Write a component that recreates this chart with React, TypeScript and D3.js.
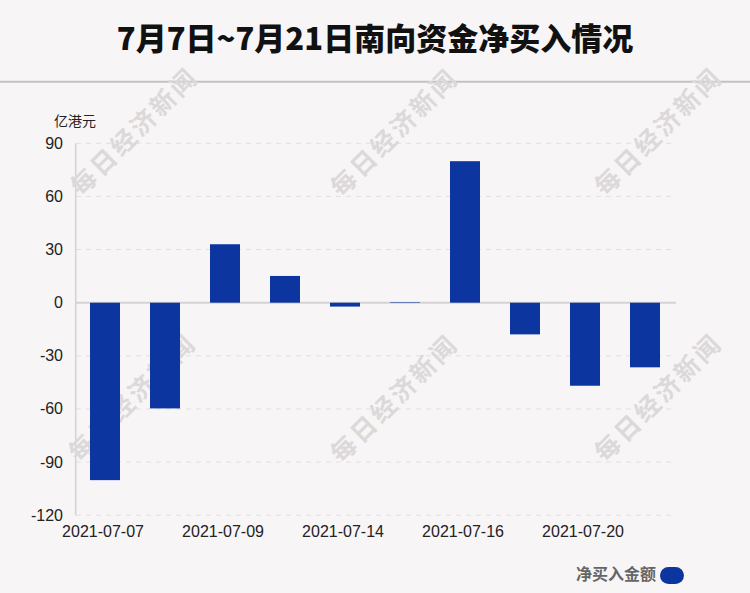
import React from "react";
import * as d3 from "d3";

const dates = ["2021-07-07", "2021-07-08", "2021-07-09", "2021-07-13", "2021-07-14", "2021-07-15", "2021-07-16", "2021-07-19", "2021-07-20", "2021-07-21"];
const netBuy = [-100.2, -59.7, 33.0, 15.1, -2.2, 0.3, 79.9, -17.9, -46.9, -36.5];
const yTicks = [90, 60, 30, 0, -30, -60, -90, -120];
const shownLabels = ["2021-07-07", "2021-07-09", "2021-07-14", "2021-07-16", "2021-07-20"];
const title = "7月7日~7月21日南向资金净买入情况";
const unit = "亿港元";
const legendLabel = "净买入金额";
const watermark = "每日经济新闻";
const watermarkSpots = [
  [133, 130], [393, 131], [657, 130],
  [131, 396], [393, 397], [657, 396],
];

const W = 750, H = 593;
const left = 75, right = 675, top = 143.3, bottom = 515.2;
const BLUE = "#0d35a0";
const FONT = "'Liberation Sans', Arial, sans-serif";
const CJK = "'Noto Sans CJK SC', 'Noto Sans', sans-serif";

export default function App() {
  const x = d3.scaleBand<string>().domain(dates).range([left, right]).paddingInner(0.5).paddingOuter(0.25);
  const y = d3.scaleLinear().domain([-120, 90]).range([bottom, top]);
  const y0 = y(0);
  return (
    <svg width={W} height={H} style={{ position: "absolute", left: 0, top: 0, background: "#f8f5f6" }}>
      <rect x={0} y={0} width={W} height={H} fill="#f8f5f6" />
      <text x={W / 2} y={50} textAnchor="middle" fontFamily={CJK} fontWeight="900" fontSize={31} fill="#111">{title}</text>
      <line x1={0} x2={W} y1={81.7} y2={81.7} stroke="#c2c2c2" strokeWidth={2} />
      {yTicks.filter(t => t !== 0).map(t => (
        <line key={"g" + t} x1={76} x2={672} y1={y(t)} y2={y(t)} stroke="#e2dfe0" strokeWidth={1} strokeDasharray="5,5" />
      ))}
      <line x1={75.7} x2={75.7} y1={top} y2={bottom} stroke="#d4d2d3" strokeWidth={1.5} />
      {watermarkSpots.map(([cx, cy], i) => (
        <text key={"w" + i} x={cx} y={cy} textAnchor="middle" dominantBaseline="central" fontFamily="'Noto Sans CJK SC', serif" fontWeight="bold" fontSize={25} letterSpacing={3} fill="#dcd9da" transform={`rotate(-45 ${cx} ${cy})`}>{watermark}</text>
      ))}
      <line x1={76} x2={676} y1={y0} y2={y0} stroke="#d4d2d3" strokeWidth={2} />
      {dates.map((d, i) => {
        const v = netBuy[i];
        const yv = y(v);
        const y1 = Math.min(yv, y0);
        const h = Math.abs(yv - y0);
        return <rect key={d} x={x(d)} y={y1} width={x.bandwidth()} height={h} fill={BLUE} />;
      })}
      {yTicks.map(t => (
        <text key={"t" + t} x={63} y={y(t)} textAnchor="end" dominantBaseline="central" fontFamily={FONT} fontSize={16} fill="#222">{t}</text>
      ))}
      <text x={54} y={126} fontFamily={CJK} fontSize={14} fill="#222">{unit}</text>
      {shownLabels.map(d => (
        <text key={"x" + d} x={(x(d) as number) + x.bandwidth() / 2 - 2} y={537} textAnchor="middle" fontFamily={FONT} fontSize={16} fill="#222">{d}</text>
      ))}
      <text x={576} y={580} fontFamily={CJK} fontWeight="bold" fontSize={16} fill="#666">{legendLabel}</text>
      <rect x={660} y={567} width={24} height={17} rx={8.5} fill={BLUE} />
    </svg>
  );
}
